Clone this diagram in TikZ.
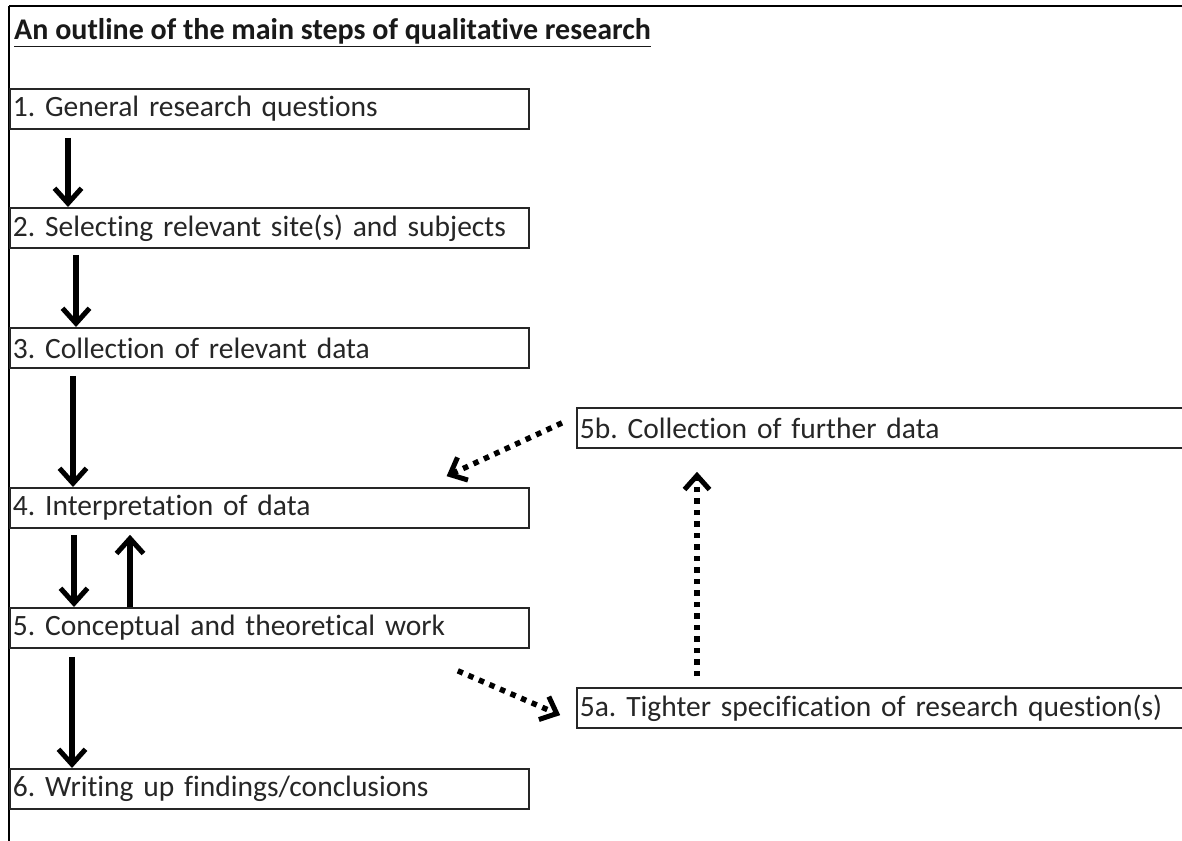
\documentclass[tikz,border=0pt]{standalone}
\usepackage{fontspec}
\setmainfont[Ligatures=NoCommon]{Carlito}
\usetikzlibrary{arrows.meta,calc}

\tikzset{
  stepbox/.style={draw=black!85, line width=1.8pt, rectangle, anchor=north west,
    minimum height=40pt, inner xsep=3pt, inner ysep=0pt, align=left,
    font=\fontsize{29.5}{33}\selectfont, text=black!85},
  leftbox/.style={stepbox, text width=513pt},
  rightbox/.style={stepbox, text width=632pt},
  flow/.style={line width=5.2pt, -{Straight Barb[length=15pt, width=27pt, line width=5pt]}},
  dotflow/.style={line width=5.5pt, dash pattern=on 5.5pt off 6pt,
    -{Straight Barb[length=14pt, width=25pt, line width=5pt, sep=2pt]}},
}

\begin{document}
\frenchspacing
\begin{tikzpicture}[x=1pt, y=-1pt]
  \clip (0,0) rectangle (1182,840);
  \fill[white] (0,0) rectangle (1182,840);

  % frame lines along the top and left edges
  \draw[line width=2.8pt] (9,6) -- (1190,6);
  \draw[line width=2.8pt] (9,6) -- (9,845);

  % heading
  \node[anchor=base west, font=\fontsize{30}{34}\selectfont\bfseries, text=black!90,
        inner sep=0pt] (title) at (14,40)
        {\underline{An outline of the main steps of qualitative research}};

  % main sequence of steps
  \node[leftbox] (b1) at (9,88)  {1. General research questions};
  \node[leftbox] (b2) at (9,207) {2. Selecting relevant site(s) and subjects};
  \node[leftbox] (b3) at (9,327) {3. Collection of relevant data};
  \node[leftbox] (b4) at (9,487) {4. Interpretation of data};
  \node[leftbox] (b5) at (9,607) {5. Conceptual and theoretical work};
  \node[leftbox] (b6) at (9,768) {6. Writing up findings/conclusions};

  % side loop
  \node[rightbox] (b5b) at (576,407) {5b. Collection of further data};
  \node[rightbox] (b5a) at (576,687) {5a. Tighter specification of research question(s)};

  % solid arrows between the steps
  \draw[flow] ($(b1.south west)+(59,8)$) -- ($(b2.north west)+(59,0)$);
  \draw[flow] ($(b2.south west)+(67,6)$) -- ($(b3.north west)+(67,0)$);
  \draw[flow] ($(b3.south west)+(64,7)$) -- ($(b4.north west)+(64,0)$);
  \draw[flow] ($(b4.south west)+(65,6)$) -- ($(b5.north west)+(65,0)$);
  \draw[flow] ($(b5.north west)+(121,0)$) -- ($(b4.south west)+(121,6)$);
  \draw[flow] ($(b5.south west)+(63,8)$) -- ($(b6.north west)+(63,0)$);

  % dotted arrows of the refinement loop
  \draw[dotflow] ($(b5.south east)+(-72,22)$) -- ($(b5a.west)+(-14,8)$);
  \draw[dotflow] ($(b5a.north west)+(121,-11)$) -- ($(b5b.south west)+(121,21)$);
  \draw[dotflow] ($(b5b.west)+(-14,-5)$) -- ($(b4.north east)+(-85,-10)$);
\end{tikzpicture}
\end{document}
